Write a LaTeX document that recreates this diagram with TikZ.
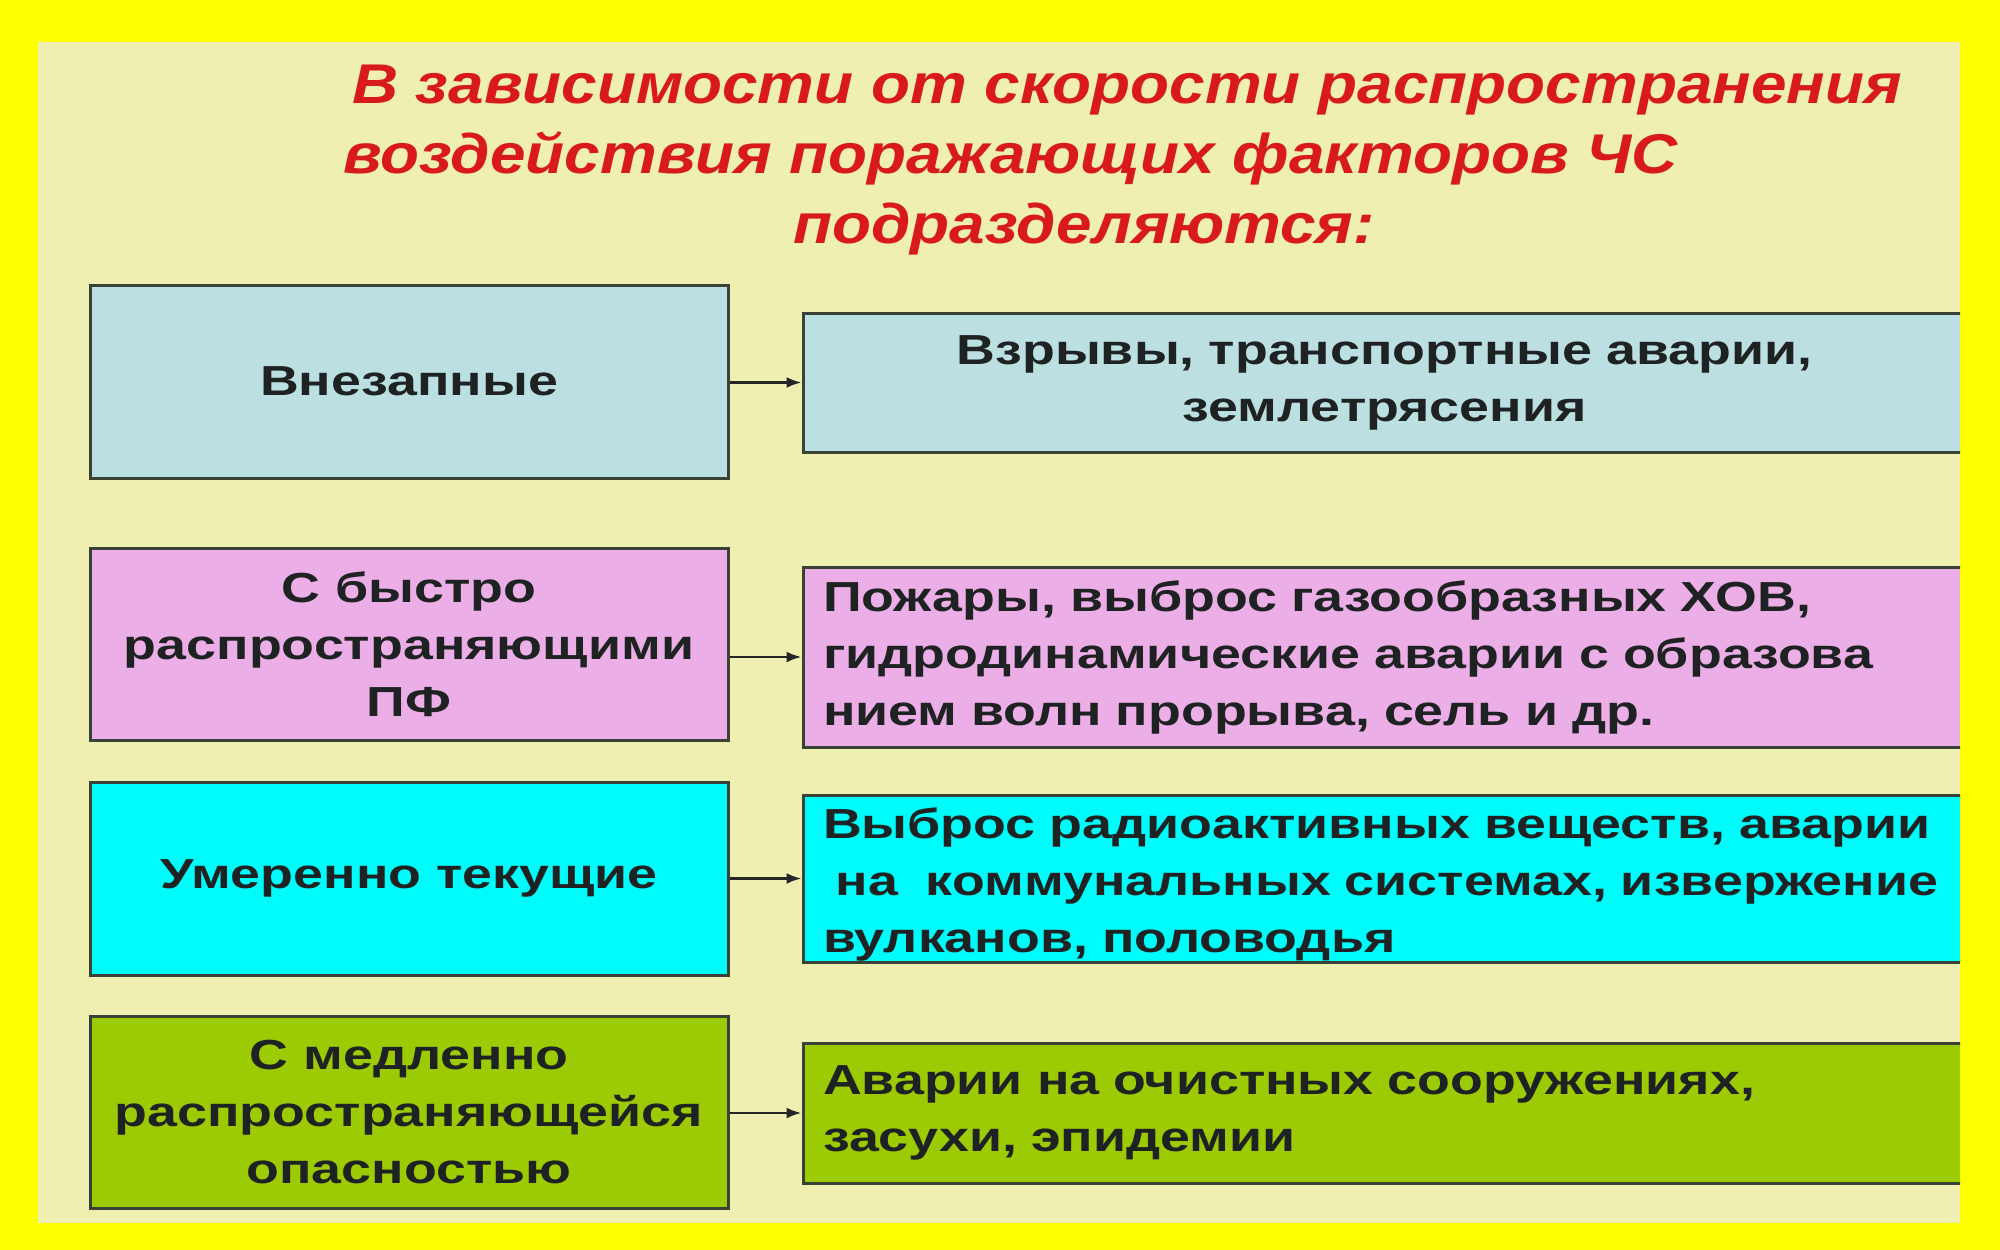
\documentclass[tikz,border=0pt]{standalone}
\usepackage{fontspec}
\setmainfont{Liberation Sans}
\newfontfamily\bodyfont{Liberation Sans}[FakeStretch=1.28]
\newfontfamily\titlefont{Liberation Sans}[FakeStretch=1.14]
\usetikzlibrary{arrows.meta}
\definecolor{outerbg}{HTML}{FFFF00}
\definecolor{panelbg}{HTML}{EFEFB2}
\definecolor{boxline}{HTML}{3A4236}
\definecolor{fillblue}{HTML}{BCE0E2}
\definecolor{fillpink}{HTML}{ECAEE6}
\definecolor{fillcyan}{HTML}{00FBFB}
\definecolor{fillgreen}{HTML}{9CCB04}
\definecolor{titlered}{HTML}{D81A1A}
\definecolor{textdark}{HTML}{1E2222}
\tikzset{
  leftbox/.style={draw=boxline, line width=3pt, minimum width=638pt, minimum height=193pt,
    inner sep=0pt, align=center, text=textdark,
    font=\bodyfont\bfseries\fontsize{42}{57}\selectfont},
  rightbox/.style={draw=boxline, line width=3pt, minimum width=1163pt,
    inner xsep=20pt, inner ysep=0pt, text width=1123pt, align=left, text=textdark,
    font=\bodyfont\bfseries\fontsize{42}{57}\selectfont},
  titleline/.style={anchor=base west, inner sep=0pt, text=titlered,
    font=\titlefont\bfseries\itshape\fontsize{56}{70}\selectfont},
  conn/.style={draw=black!85, line width=2.5pt, -{Latex[length=15pt,width=11pt]}}
}
\begin{document}
\begin{tikzpicture}[x=1pt,y=-1pt]
\fill[outerbg] (0,0) rectangle (2000,1250);
\fill[panelbg] (38,42) rectangle (1960,1223);
\begin{scope}
\clip (38,42) rectangle (1960,1223);
\node[titleline] (t1) at (352,103) {В зависимости от скорости распространения};
\node[titleline] (t2) at (343,173) {воздействия поражающих факторов ЧС};
\node[titleline] (t3) at (793,243) {подразделяются:};

\node[leftbox, fill=fillblue] (l1) at (409,381.5) {Внезапные};
\node[leftbox, fill=fillpink, minimum height=192pt] (l2) at (409,644) {С быстро\\распространяющими\\ПФ};
\node[leftbox, fill=fillcyan] (l3) at (409,878.5) {Умеренно текущие};
\node[leftbox, fill=fillgreen, minimum height=192pt] (l4) at (409,1112) {С медленно\\распространяющейся\\опасностью};

\node[rightbox, fill=fillblue, minimum height=139pt, align=center] (r1) at (1384.5,382.5) {Взрывы, транспортные аварии,\\землетрясения};
\node[rightbox, fill=fillpink, minimum height=180pt] (r2) at (1384.5,657) {Пожары, выброс газообразных ХОВ,\\гидродинамические аварии с образова\\нием волн прорыва, сель и др.};
\node[rightbox, fill=fillcyan, minimum height=167pt] (r3) at (1384.5,878.5) {\rule{0pt}{43pt}Выброс радиоактивных веществ, аварии\\\hspace*{0.3em}на~~коммунальных системах, извержение\\вулканов, половодья};
\node[rightbox, fill=fillgreen, minimum height=140pt] (r4) at (1384.5,1113) {Аварии на очистных сооружениях,\\засухи, эпидемии};
\end{scope}

\draw[conn] (l1.east |- r1.west) -- (r1.west);
\draw[conn] (l2.east |- r2.west) -- (r2.west);
\draw[conn] (l3.east |- r3.west) -- (r3.west);
\draw[conn] (l4.east |- r4.west) -- (r4.west);
\end{tikzpicture}
\end{document}
